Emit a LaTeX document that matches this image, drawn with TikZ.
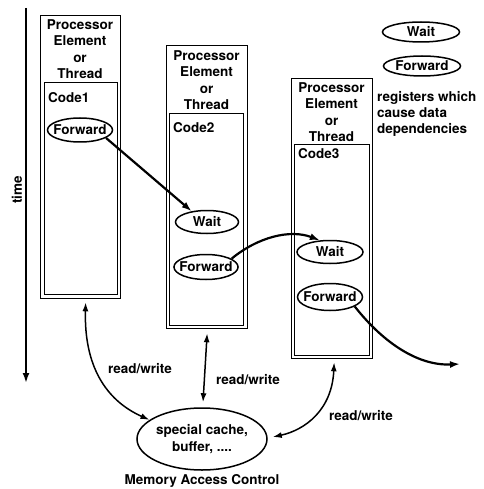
\documentclass[tikz,border=0pt]{standalone}
\usepackage{fontspec}
\setmainfont{TeX Gyre Heros}
\usetikzlibrary{arrows.meta,shapes.geometric,calc}
\begin{document}
\begin{tikzpicture}[x=1pt,y=-1pt,
  font=\fontsize{13.5}{16.3}\selectfont\bfseries,
  pebox/.style={draw,line width=1.3pt,anchor=north west,inner sep=0pt},
  codebox/.style={draw,line width=1.3pt,anchor=north west,inner sep=0pt},
  hdr/.style={align=center,inner sep=0pt},
  reg/.style={draw,ellipse,line width=1.5pt,inner xsep=-4pt,inner ysep=0pt},
  lbl/.style={inner sep=0pt},
  dep/.style={line width=2.2pt,-{Latex[length=10pt,width=7pt]}},
  rw/.style={line width=1.5pt,{Latex[length=9pt,width=6pt]}-{Latex[length=9pt,width=6pt]}},
  tax/.style={line width=2pt,-{Latex[length=10pt,width=7pt]}}
]
\useasboundingbox (0,0) rectangle (483,489);

% time axis
\coordinate (ttop) at (26,8);
\coordinate (tbot) at (26,383);
\draw[tax] (ttop) -- (tbot);
\node[lbl,rotate=90] (timelbl) at (17,190) {time};

% PE1
\node[pebox,minimum width=80,minimum height=283] (pe1) at (40,15) {};
\node[codebox,minimum width=73,minimum height=212] (c1) at (44,82) {};
\node[hdr] (h1) at (80,49) {Processor\\Element\\or\\Thread};
\node[lbl,anchor=west] (code1) at (48,98) {Code1};
\node[reg,minimum width=65,minimum height=24] (f1) at (80,130) {Forward};

% PE2
\node[pebox,minimum width=81,minimum height=283] (pe2) at (166,45) {};
\node[codebox,minimum width=74,minimum height=212] (c2) at (169,113) {};
\node[hdr] (h2) at (206.5,80) {Processor\\Element\\or\\Thread};
\node[lbl,anchor=west] (code2) at (173,128) {Code2};
\node[reg,minimum width=63,minimum height=23] (w2) at (207,222) {Wait};
\node[reg,minimum width=62,minimum height=25] (f2) at (206,267) {Forward};

% PE3
\node[pebox,minimum width=81,minimum height=280] (pe3) at (291,78) {};
\node[codebox,minimum width=75,minimum height=211] (c3) at (294,144) {};
\node[hdr] (h3) at (331.5,112) {Processor\\Element\\or\\Thread};
\node[lbl,anchor=west] (code3) at (298,154) {Code3};
\node[reg,minimum width=66,minimum height=23] (w3) at (330,252) {Wait};
\node[reg,minimum width=65,minimum height=27] (f3) at (330,297) {Forward};

% legend
\node[reg,minimum width=77,minimum height=20] (lw) at (421,32) {Wait};
\node[reg,minimum width=77,minimum height=20] (lf) at (422,66) {Forward};
\node[lbl,anchor=west,align=left] (legtxt) at (377,114) {registers which\\cause data\\dependencies};

% memory
\node[reg,minimum width=130,minimum height=62,align=center] (mem) at (202,439) {special cache,\\buffer, ....};
\node[lbl] (mac) at (202,481) {Memory Access Control};

% dependency arrows
\draw[dep] (f1.-17) -- (w2.145);
\draw[dep] (f2.18) .. controls (258,237) and (290,229) .. (w3.131);
\coordinate (out3) at (460,364);
\draw[dep] (f3.-21) .. controls (385,345) and (420,366) .. (out3);

% read/write arrows
\draw[rw] ($(pe1.south)+(5,3)$) .. controls (84,365) and (105,400) .. (mem.160);
\draw[rw] ($(pe2.south)+(0,4)$) -- ($(mem.north)+(1,-5)$);
\draw[rw] ($(pe3.south)+(2,3)$) .. controls (332,410) and (305,430) .. ($(mem.east)+(5,-2)$);

\node[lbl] (rw1) at (140,369) {read/write};
\node[lbl] (rw2) at (248,380) {read/write};
\node[lbl] (rw3) at (361,416) {read/write};
\end{tikzpicture}
\end{document}
